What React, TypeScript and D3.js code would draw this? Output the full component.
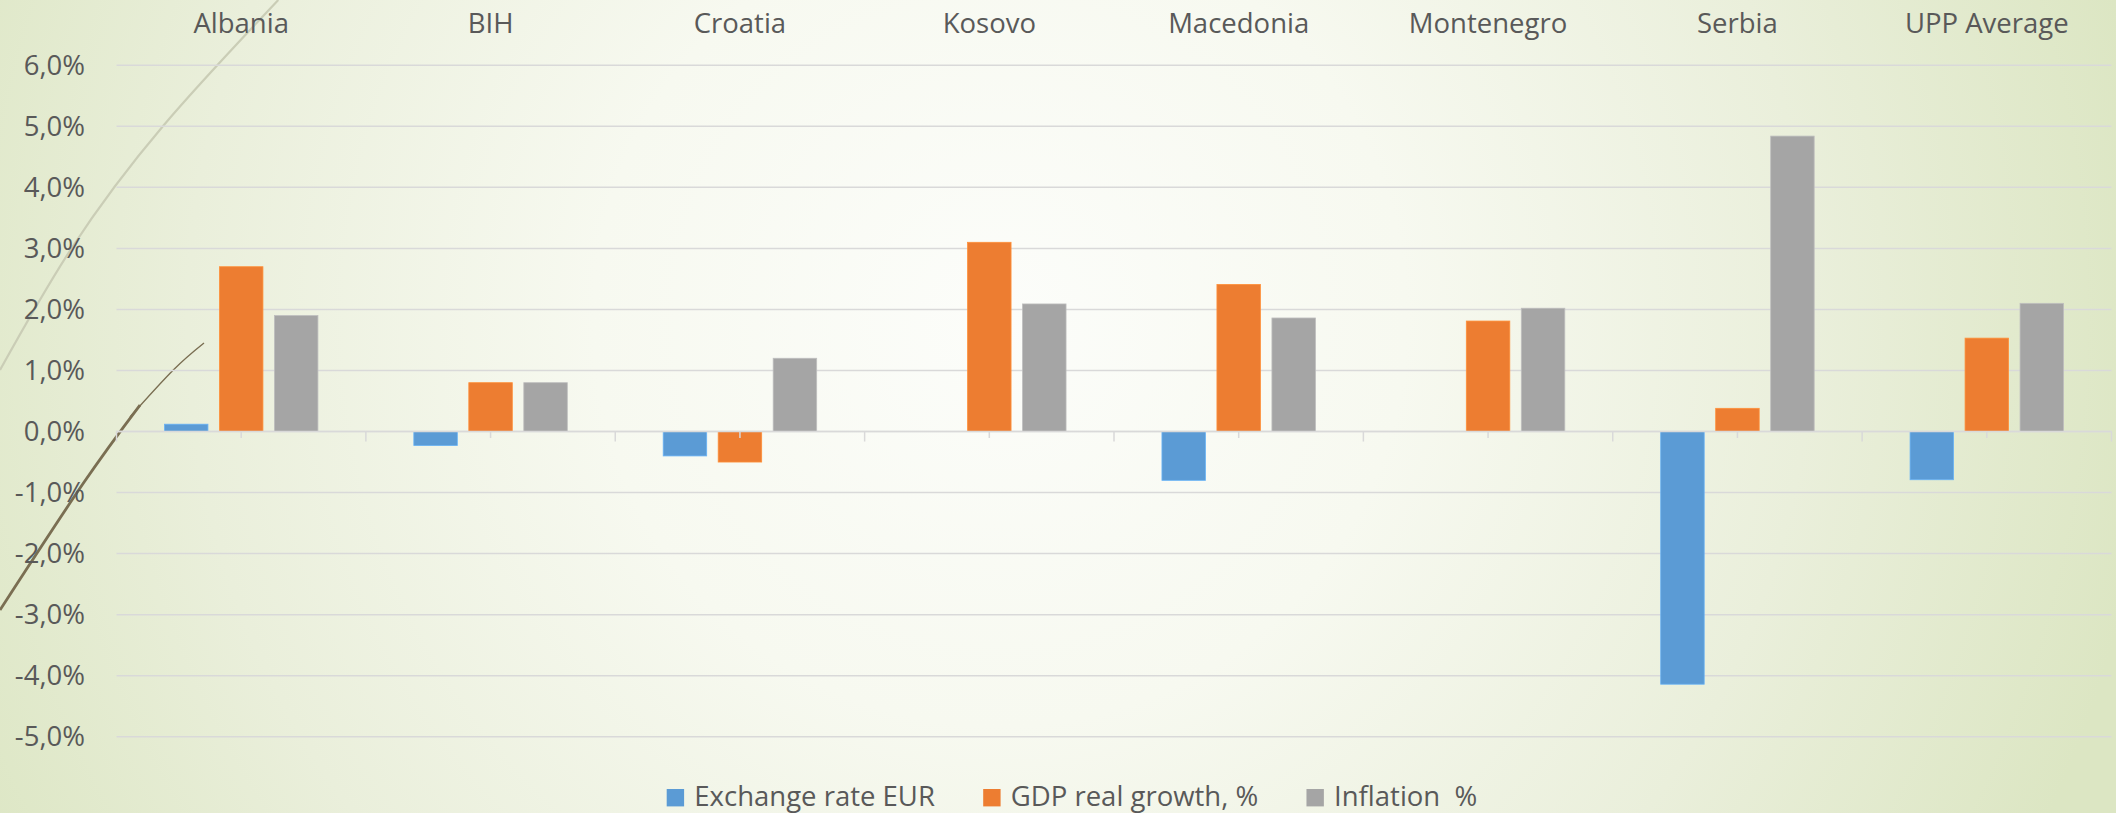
import React, { useEffect, useRef } from "react";
import * as d3 from "d3";

const categories = ["Albania", "BIH", "Croatia", "Kosovo", "Macedonia", "Montenegro", "Serbia", "UPP Average"];
const seriesNames = ["Exchange rate EUR", "GDP real growth, %", "Inflation  %"];
const exchangeRate = [0.12, -0.23, -0.4, 0, -0.8, 0, -4.14, -0.79];
const gdpGrowth = [2.7, 0.8, -0.5, 3.1, 2.41, 1.81, 0.38, 1.53];
const inflation = [1.9, 0.8, 1.2, 2.09, 1.86, 2.02, 4.84, 2.1];
const yTicks = [6, 5, 4, 3, 2, 1, 0, -1, -2, -3, -4, -5];
const colors = ["#5b9bd5", "#ed7d31", "#a5a5a5"];

const W = 2116;
const H = 813;
const FONT = "'Open Sans', sans-serif";

export default function App() {
  const ref = useRef<SVGSVGElement | null>(null);

  useEffect(() => {
    const svg = d3.select(ref.current);
    svg.selectAll("*").remove();

    const defs = svg.append("defs");
    const grad = defs
      .append("radialGradient")
      .attr("id", "bg")
      .attr("gradientUnits", "userSpaceOnUse")
      .attr("cx", 1000)
      .attr("cy", 320)
      .attr("r", 1160);
    [
      [0, "#fcfdfa"],
      [0.35, "#f7f9f0"],
      [0.7, "#eaefdb"],
      [1, "#dce6c3"],
    ].forEach(([o, c]) => grad.append("stop").attr("offset", o as number).attr("stop-color", c as string));

    svg.append("rect").attr("width", W).attr("height", H).attr("fill", "url(#bg)");

    // decorative slide curves
    const line = d3.line().curve(d3.curveNatural);
    const light: [number, number][] = [
      [0, 370], [71.7, 248], [163.3, 125.7], [278.3, 0],
    ];
    svg.append("path").attr("d", line(light)).attr("fill", "none").attr("stroke", "#cacdb6").attr("stroke-width", 2.2);
    const darkLow: [number, number][] = [[0, 610], [83.3, 483.3], [140, 405]];
    const darkHigh: [number, number][] = [[130, 417], [173.3, 370], [204, 343]];
    svg.append("path").attr("d", line(darkLow)).attr("fill", "none").attr("stroke", "#7a6e52").attr("stroke-width", 2.8);
    svg.append("path").attr("d", line(darkHigh)).attr("fill", "none").attr("stroke", "#7a6e52").attr("stroke-width", 1.4);

    const left = 116.5;
    const right = 2111.5;
    const x0 = d3.scaleBand<string>().domain(categories).range([left, right]).padding(0);
    const x1 = d3
      .scaleBand<number>()
      .domain([0, 1, 2])
      .range([0, x0.bandwidth()])
      .paddingInner(0.209)
      .paddingOuter(0.872);
    const y = d3.scaleLinear().domain([-5, 6]).range([736.7, 65.3]);

    // gridlines
    svg
      .append("g")
      .selectAll("line")
      .data(yTicks)
      .join("line")
      .attr("x1", left)
      .attr("x2", right)
      .attr("y1", (d) => y(d))
      .attr("y2", (d) => y(d))
      .attr("stroke", "#d9d9d9")
      .attr("stroke-width", 1.5);

    // y labels
    const fmt = (d: number) => d.toFixed(1).replace(".", ",") + "%";
    svg
      .append("g")
      .selectAll("text")
      .data(yTicks)
      .join("text")
      .attr("x", 85)
      .attr("y", (d) => y(d) + 9.5)
      .attr("text-anchor", "end")
      .attr("font-family", FONT)
      .attr("font-size", 27.5)
      .attr("fill", "#595959")
      .text(fmt);

    // bars
    const series = [exchangeRate, gdpGrowth, inflation];
    series.forEach((vals, si) => {
      svg
        .append("g")
        .selectAll("rect")
        .data(vals)
        .join("rect")
        .attr("x", (_, i) => (x0(categories[i]) as number) + (x1(si) as number))
        .attr("width", x1.bandwidth())
        .attr("y", (d) => y(Math.max(0, d)))
        .attr("height", (d) => Math.abs(y(d) - y(0)))
        .attr("fill", colors[si])
        .attr("stroke", d3.color(colors[si])!.brighter(0.4).toString())
        .attr("stroke-width", (d) => (d === 0 ? 0 : 0.8));
    });

    // axis line + ticks
    const y0 = y(0);
    svg
      .append("line")
      .attr("x1", left)
      .attr("x2", right)
      .attr("y1", y0)
      .attr("y2", y0)
      .attr("stroke", "#d9d9d9")
      .attr("stroke-width", 1.5);
    const tickPos = d3.range(categories.length * 2 + 1);
    svg
      .append("g")
      .selectAll("line")
      .data(tickPos)
      .join("line")
      .attr("x1", (i) => left + (i * x0.bandwidth()) / 2)
      .attr("x2", (i) => left + (i * x0.bandwidth()) / 2)
      .attr("y1", y0)
      .attr("y2", (i) => y0 + (i % 2 === 0 ? 10 : 6.5))
      .attr("stroke", "#d9d9d9")
      .attr("stroke-width", 1.5);

    // category labels at top
    svg
      .append("g")
      .selectAll("text")
      .data(categories)
      .join("text")
      .attr("x", (d) => (x0(d) as number) + x0.bandwidth() / 2)
      .attr("y", 32.7)
      .attr("text-anchor", "middle")
      .attr("font-family", FONT)
      .attr("font-size", 27.5)
      .attr("fill", "#595959")
      .text((d) => d);

    // legend
    const lg = svg.append("g");
    let lx = 666.7;
    seriesNames.forEach((name, i) => {
      lg.append("rect")
        .attr("x", lx)
        .attr("y", 789)
        .attr("width", 17.4)
        .attr("height", 17.4)
        .attr("fill", colors[i]);
      const t = lg
        .append("text")
        .attr("x", lx + 27.6)
        .attr("y", 806)
        .attr("font-family", FONT)
        .attr("font-size", 27.5)
        .attr("fill", "#595959")
        .attr("xml:space", "preserve")
        .style("white-space", "pre")
        .text(name);
      const tw = (t.node() as SVGTextElement).getComputedTextLength();
      lx = lx + 27.6 + tw + 48.3;
    });
  }, []);

  return (
    <svg
      ref={ref}
      width={W}
      height={H}
      style={{ position: "absolute", left: 0, top: 0, display: "block" }}
    />
  );
}
